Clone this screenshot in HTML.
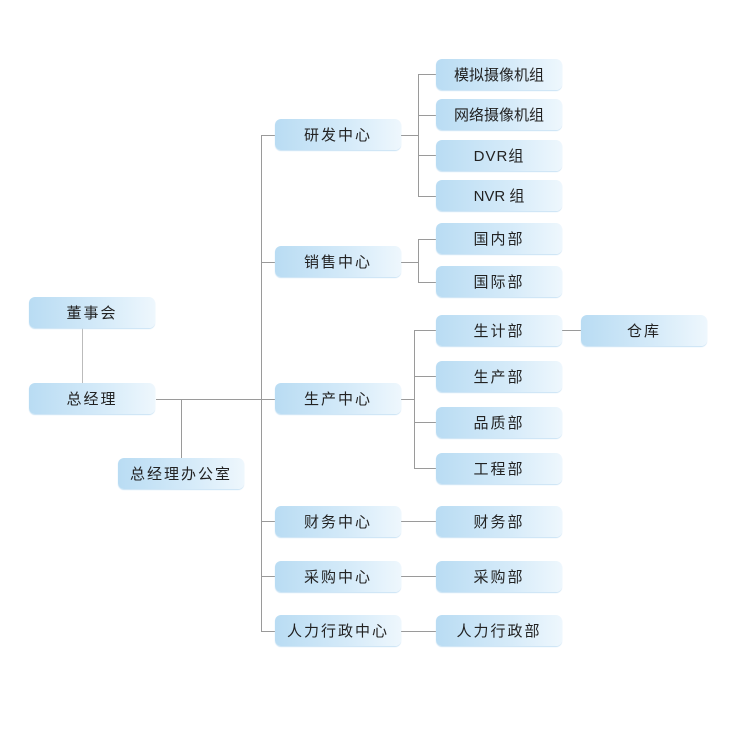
<!DOCTYPE html>
<html><head><meta charset="utf-8"><style>
body{margin:0;width:730px;height:730px;background:#fff;position:relative;overflow:hidden;font-family:"Liberation Sans","Noto Sans CJK SC",sans-serif}
.b{position:absolute;width:126px;height:31px;border-radius:6px;background:linear-gradient(90deg,#b9dcf3 0%,#d6ebf9 60%,#eef7fd 100%);box-shadow:0 1px 1px #c8e2f4;display:flex;align-items:center;justify-content:center;font-size:15px;color:#222;letter-spacing:2px}
.l{position:absolute;background:#9a9a9a}
</style></head><body>
<div class="l" style="left:82px;top:328px;width:1px;height:55px;background:#bbb"></div>
<div class="l" style="left:156px;top:399px;width:119px;height:1px"></div>
<div class="l" style="left:181px;top:399px;width:1px;height:59px"></div>
<div class="l" style="left:261px;top:135px;width:1px;height:497px"></div>
<div class="l" style="left:261px;top:135px;width:14px;height:1px"></div>
<div class="l" style="left:261px;top:262px;width:14px;height:1px"></div>
<div class="l" style="left:261px;top:521px;width:14px;height:1px"></div>
<div class="l" style="left:261px;top:576px;width:14px;height:1px"></div>
<div class="l" style="left:261px;top:631px;width:14px;height:1px"></div>
<div class="l" style="left:401px;top:135px;width:17px;height:1px"></div>
<div class="l" style="left:418px;top:74px;width:1px;height:123px"></div>
<div class="l" style="left:418px;top:74px;width:18px;height:1px"></div>
<div class="l" style="left:418px;top:115px;width:18px;height:1px"></div>
<div class="l" style="left:418px;top:155px;width:18px;height:1px"></div>
<div class="l" style="left:418px;top:196px;width:18px;height:1px"></div>
<div class="l" style="left:401px;top:262px;width:17px;height:1px"></div>
<div class="l" style="left:418px;top:239px;width:1px;height:43px"></div>
<div class="l" style="left:418px;top:239px;width:18px;height:1px"></div>
<div class="l" style="left:418px;top:282px;width:18px;height:1px"></div>
<div class="l" style="left:401px;top:399px;width:13px;height:1px"></div>
<div class="l" style="left:414px;top:330px;width:1px;height:139px"></div>
<div class="l" style="left:414px;top:330px;width:22px;height:1px"></div>
<div class="l" style="left:414px;top:376px;width:22px;height:1px"></div>
<div class="l" style="left:414px;top:422px;width:22px;height:1px"></div>
<div class="l" style="left:414px;top:468px;width:22px;height:1px"></div>
<div class="l" style="left:562px;top:330px;width:19px;height:1px"></div>
<div class="l" style="left:401px;top:521px;width:35px;height:1px"></div>
<div class="l" style="left:401px;top:576px;width:35px;height:1px"></div>
<div class="l" style="left:401px;top:631px;width:35px;height:1px"></div>

<div class="b" style="left:29px;top:297px">董事会</div>
<div class="b" style="left:29px;top:383px">总经理</div>
<div class="b" style="left:118px;top:458px">总经理办公室</div>
<div class="b" style="left:275px;top:119px">研发中心</div>
<div class="b" style="left:275px;top:246px">销售中心</div>
<div class="b" style="left:275px;top:383px">生产中心</div>
<div class="b" style="left:275px;top:506px">财务中心</div>
<div class="b" style="left:275px;top:561px">采购中心</div>
<div class="b" style="left:275px;top:615px">人力行政中心</div>
<div class="b" style="left:436px;top:59px;letter-spacing:0">模拟摄像机组</div>
<div class="b" style="left:436px;top:99px;letter-spacing:0">网络摄像机组</div>
<div class="b" style="left:436px;top:140px;letter-spacing:1px">DVR组</div>
<div class="b" style="left:436px;top:180px;letter-spacing:0">NVR 组</div>
<div class="b" style="left:436px;top:223px">国内部</div>
<div class="b" style="left:436px;top:266px">国际部</div>
<div class="b" style="left:436px;top:315px">生计部</div>
<div class="b" style="left:436px;top:361px">生产部</div>
<div class="b" style="left:436px;top:407px">品质部</div>
<div class="b" style="left:436px;top:453px">工程部</div>
<div class="b" style="left:436px;top:506px">财务部</div>
<div class="b" style="left:436px;top:561px">采购部</div>
<div class="b" style="left:436px;top:615px">人力行政部</div>
<div class="b" style="left:581px;top:315px">仓库</div>
</body></html>
